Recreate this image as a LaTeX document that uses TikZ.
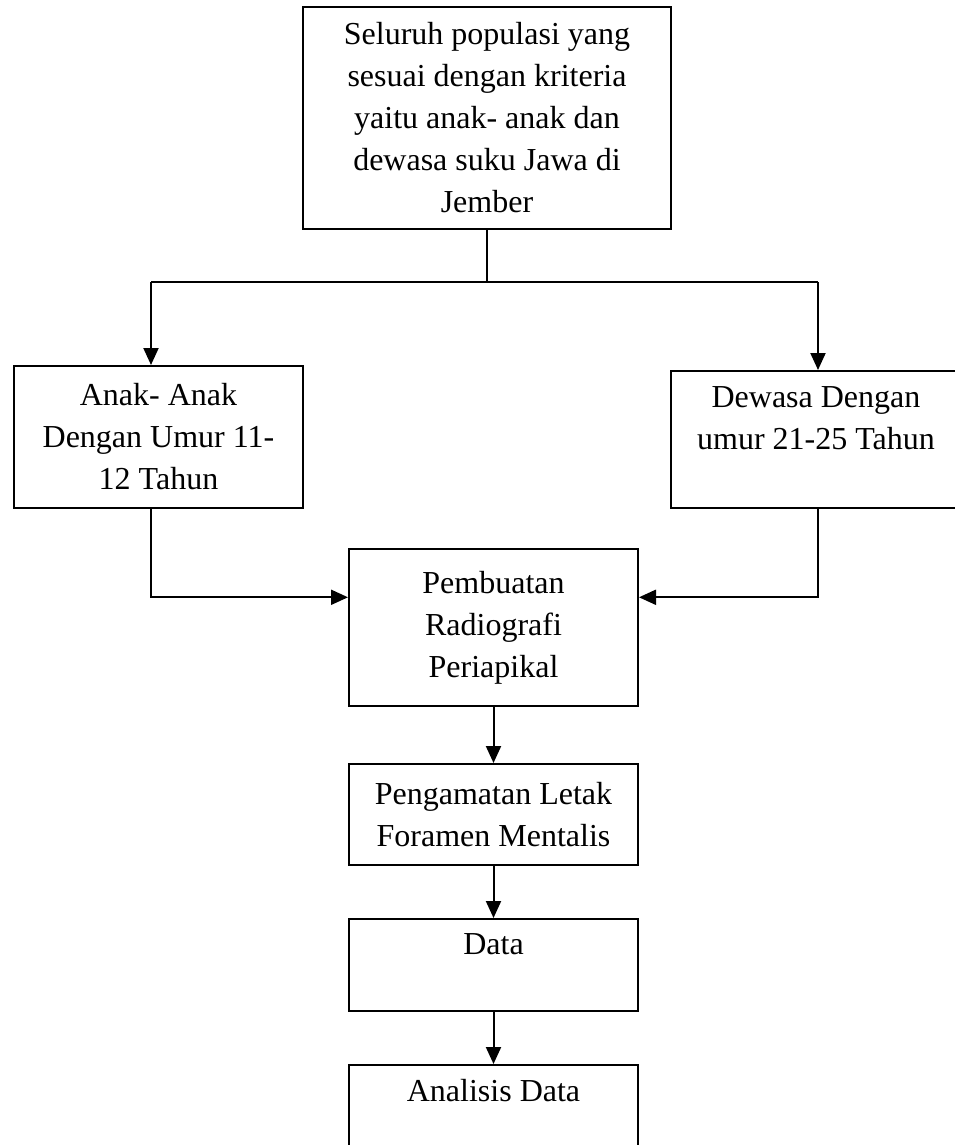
\documentclass[tikz,border=0pt]{standalone}
\usepackage{fontspec}
\setmainfont{Liberation Serif}
\usetikzlibrary{calc,positioning,arrows.meta}

\begin{document}
\begin{tikzpicture}[x=0.75pt,y=-0.75pt,>={Triangle[length=12.75pt,width=11.25pt]},
  kotak/.style={draw,line width=1.5pt,align=center,inner sep=0pt,
    font=\fontsize{24}{31.5}\selectfont},
  garis/.style={line width=1.5pt}]
  \useasboundingbox (0,0) rectangle (954,1145);
  \node[kotak,minimum width=276pt,minimum height=166.5pt] (seluruh) at (487,118)
    {Seluruh populasi yang\\sesuai dengan kriteria\\yaitu anak- anak dan\\dewasa suku Jawa di\\Jember};
  \node[kotak,minimum width=216.75pt,minimum height=106.5pt] (anak) at (158.5,437)
    {Anak- Anak\\Dengan Umur 11-\\12 Tahun};
  \node[kotak,minimum width=217.5pt,minimum height=102.75pt] (dewasa) at (816,439.5)
    {Dewasa Dengan\\umur 21-25 Tahun\\~};
  \node[kotak,minimum width=216.75pt,minimum height=117.75pt] (pembuatan) at (493.5,627.5)
    {Pembuatan\\Radiografi\\Periapikal};
  \node[kotak,minimum width=216.75pt,minimum height=75.75pt,below=42pt of pembuatan] (pengamatan)
    {Pengamatan Letak\\Foramen Mentalis};
  \node[kotak,minimum width=216.75pt,minimum height=69pt,below=39pt of pengamatan] (data)
    {Data\\~};
  \node[kotak,minimum width=216.75pt,minimum height=69pt,below=39pt of data] (analisis)
    {Analisis Data\\~};
  %
  \coordinate (cabang) at (seluruh.south |- 0,282);
  \coordinate (kiri) at (151,282);
  \coordinate (kanan) at (818,282);
  \draw[garis] (seluruh.south) -- (cabang);
  \draw[garis] (kiri) -- (kanan);
  \draw[garis,->] (kiri) -- (kiri |- anak.north);
  \draw[garis,->] (kanan) -- (kanan |- dewasa.north);
  \draw[garis,->] (kiri |- anak.south) |- ($(pembuatan.north west)!0.31!(pembuatan.south west)$);
  \draw[garis,->] (kanan |- dewasa.south) |- ($(pembuatan.north east)!0.31!(pembuatan.south east)$);
  \draw[garis,->] (pembuatan) -- (pengamatan);
  \draw[garis,->] (pengamatan) -- (data);
  \draw[garis,->] (data) -- (analisis);
\end{tikzpicture}
\end{document}
